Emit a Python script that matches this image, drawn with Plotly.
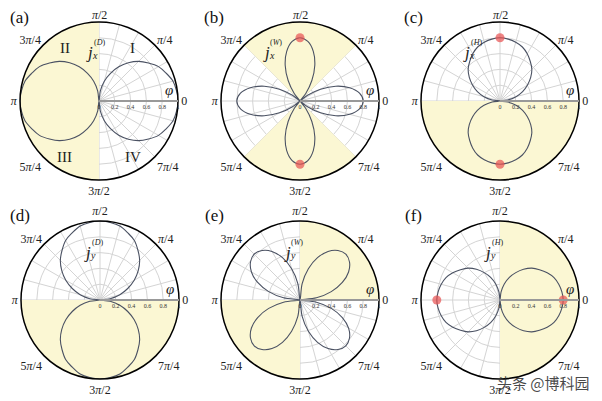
import plotly.graph_objects as go

W, H = 602, 401
OFF = 8  # the page body margin pushes the figure 8px right and down
R = 79  # radius of each polar disc in px

# angle grid in degrees, 0..360 step 7.5
phi = [i * 7.5 for i in range(49)]

# read-off radial values (normalised current density)
r_a = [1.00, 0.99, 0.97, 0.92, 0.87, 0.79, 0.71, 0.61, 0.50, 0.38, 0.26, 0.13, 0.00,
       0.13, 0.26, 0.38, 0.50, 0.61, 0.71, 0.79, 0.87, 0.92, 0.97, 0.99, 1.00,
       0.99, 0.97, 0.92, 0.87, 0.79, 0.71, 0.61, 0.50, 0.38, 0.26, 0.13, 0.00,
       0.13, 0.26, 0.38, 0.50, 0.61, 0.71, 0.79, 0.87, 0.92, 0.97, 0.99, 1.00]
r_b = [0.80, 0.76, 0.65, 0.49, 0.30, 0.12, 0.00, 0.12, 0.30, 0.49, 0.65, 0.76, 0.80,
       0.76, 0.65, 0.49, 0.30, 0.12, 0.00, 0.12, 0.30, 0.49, 0.65, 0.76, 0.80,
       0.76, 0.65, 0.49, 0.30, 0.12, 0.00, 0.12, 0.30, 0.49, 0.65, 0.76, 0.80,
       0.76, 0.65, 0.49, 0.30, 0.12, 0.00, 0.12, 0.30, 0.49, 0.65, 0.76, 0.80]
r_c = [0.00, 0.10, 0.21, 0.31, 0.40, 0.49, 0.57, 0.63, 0.69, 0.74, 0.77, 0.79, 0.80,
       0.79, 0.77, 0.74, 0.69, 0.63, 0.57, 0.49, 0.40, 0.31, 0.21, 0.10, 0.00,
       0.10, 0.21, 0.31, 0.40, 0.49, 0.57, 0.63, 0.69, 0.74, 0.77, 0.79, 0.80,
       0.79, 0.77, 0.74, 0.69, 0.63, 0.57, 0.49, 0.40, 0.31, 0.21, 0.10, 0.00]
r_d = [0.00, 0.13, 0.26, 0.38, 0.50, 0.61, 0.71, 0.79, 0.87, 0.92, 0.97, 0.99, 1.00,
       0.99, 0.97, 0.92, 0.87, 0.79, 0.71, 0.61, 0.50, 0.38, 0.26, 0.13, 0.00,
       0.13, 0.26, 0.38, 0.50, 0.61, 0.71, 0.79, 0.87, 0.92, 0.97, 0.99, 1.00,
       0.99, 0.97, 0.92, 0.87, 0.79, 0.71, 0.61, 0.50, 0.38, 0.26, 0.13, 0.00]
r_e = [0.00, 0.21, 0.41, 0.58, 0.71, 0.79, 0.82, 0.79, 0.71, 0.58, 0.41, 0.21, 0.00,
       0.21, 0.41, 0.58, 0.71, 0.79, 0.82, 0.79, 0.71, 0.58, 0.41, 0.21, 0.00,
       0.21, 0.41, 0.58, 0.71, 0.79, 0.82, 0.79, 0.71, 0.58, 0.41, 0.21, 0.00,
       0.21, 0.41, 0.58, 0.71, 0.79, 0.82, 0.79, 0.71, 0.58, 0.41, 0.21, 0.00]
r_f = [0.80, 0.79, 0.77, 0.74, 0.69, 0.63, 0.57, 0.49, 0.40, 0.31, 0.21, 0.10, 0.00,
       0.10, 0.21, 0.31, 0.40, 0.49, 0.57, 0.63, 0.69, 0.74, 0.77, 0.79, 0.80,
       0.79, 0.77, 0.74, 0.69, 0.63, 0.57, 0.49, 0.40, 0.31, 0.21, 0.10, 0.00,
       0.10, 0.21, 0.31, 0.40, 0.49, 0.57, 0.63, 0.69, 0.74, 0.77, 0.79, 0.80]

# shaded sectors: centre angle and width (deg)
shade_a = ([180], [180])
shade_b = ([90, 270], [90, 90])
shade_c = ([270], [180])
shade_d = ([270], [180])
shade_e = ([45, 225], [90, 90])
shade_f = ([0], [180])

# highlighted maxima
dots_b = ([0.8, 0.8], [90, 270])
dots_c = ([0.8, 0.8], [90, 270])
dots_f = ([0.8, 0.8], [0, 180])

angle_ticks = list(range(0, 360, 15))
angle_labels = {0: "0", 45: "<i>π</i>/4", 90: "<i>π</i>/2", 135: "3<i>π</i>/4",
                180: "<i>π</i>", 225: "5<i>π</i>/4", 270: "3<i>π</i>/2", 315: "7<i>π</i>/4"}
radial_ticks = [0, 0.2, 0.4, 0.6, 0.8, 1]
radial_labels = ["0", "0.2", "0.4", "0.6", "0.8", "1"]

YELLOW = "#fbf7d3"
CURVE = "#4b5263"
GRID = "#d4d4d4"
SERIF = "Liberation Serif"

panels = [
    dict(tag="(a)", r=r_a, shade=shade_a, dots=None, sub="x", sup="D", c=(99, 101), lab=(-10, -49), tx=8),
    dict(tag="(b)", r=r_b, shade=shade_b, dots=dots_b, sub="x", sup="W", c=(300, 101), lab=(-34, -49), tx=202),
    dict(tag="(c)", r=r_c, shade=shade_c, dots=dots_c, sub="x", sup="H", c=(500, 101), lab=(-34, -49), tx=402),
    dict(tag="(d)", r=r_d, shade=shade_d, dots=None, sub="y", sup="D", c=(100, 300), lab=(-13, -48), tx=8),
    dict(tag="(e)", r=r_e, shade=shade_e, dots=None, sub="y", sup="W", c=(300, 300), lab=(-13, -48), tx=203),
    dict(tag="(f)", r=r_f, shade=shade_f, dots=dots_f, sub="y", sup="H", c=(500, 300), lab=(-13, -48), tx=403),
]

FW, FH = W - OFF, H - OFF


def px(x, y):
    # screen pixel -> paper fraction
    return (x - OFF) / FW, 1 - (y - OFF) / FH


fig = go.Figure()
annotations = []
layout = {}

for i, p in enumerate(panels):
    pid = "polar" if i == 0 else f"polar{i + 1}"
    th, wd = p["shade"]
    fig.add_trace(go.Barpolar(r=[1] * len(th), theta=th, width=wd, subplot=pid,
                              marker=dict(color=YELLOW, line=dict(width=0)),
                              hoverinfo="skip"))
    fig.add_trace(go.Scatterpolar(r=p["r"], theta=phi, mode="lines", subplot=pid,
                                  line=dict(color=CURVE, width=1.1, shape="spline")))
    if p["dots"]:
        fig.add_trace(go.Scatterpolar(r=p["dots"][0], theta=p["dots"][1], mode="markers",
                                      subplot=pid,
                                      marker=dict(color="rgba(232,80,80,0.7)", size=9)))

    cx, cy = p["c"]
    top_row = cy < 200
    labels = [angle_labels.get(a, "") for a in angle_ticks]
    if top_row:
        # top label would fall into the page margin; drawn as annotation below
        labels[angle_ticks.index(90)] = ""
        ax, ay = px(cx, 15)
        annotations.append(dict(x=ax, y=ay, text=angle_labels[90],
                                font=dict(size=12, family=SERIF, color="#222")))

    x0, y1 = px(cx - R, cy - R)
    x1, y0 = px(cx + R, cy + R)
    layout[pid] = dict(
        domain=dict(x=[x0, x1], y=[y0, y1]),
        bgcolor="white",
        radialaxis=dict(range=[0, 1], tickvals=radial_ticks, ticktext=radial_labels,
                        tickfont=dict(size=6, color="#333", family=SERIF), angle=0,
                        showline=True, linecolor="#999", linewidth=2,
                        gridcolor=GRID, gridwidth=1, ticks=""),
        angularaxis=dict(tickvals=angle_ticks, ticktext=labels,
                         tickfont=dict(size=12, color="#222", family=SERIF),
                         gridcolor=GRID, gridwidth=1, showline=True,
                         linecolor="black", linewidth=1.5, ticks=""),
    )

    # panel tag
    tx, ty = px(p["tx"], cy - 84)
    annotations.append(dict(x=tx, y=ty, text=p["tag"], xanchor="left",
                            font=dict(size=17, family=SERIF, color="#111")))
    # j label with stacked sub/sup
    lx, ly = p["lab"]
    ax, ay = px(cx + lx, cy + ly)
    annotations.append(dict(x=ax, y=ay, text="<i>j</i>", font=dict(size=17, family=SERIF, color="#222")))
    ax, ay = px(cx + lx + 6, cy + ly + 3)
    annotations.append(dict(x=ax, y=ay, text="<i>%s</i>" % p["sub"], font=dict(size=10, family=SERIF, color="#222")))
    ax, ay = px(cx + lx + 10, cy + ly - 9)
    annotations.append(dict(x=ax, y=ay, text="(<i>%s</i>)" % p["sup"], font=dict(size=8, family=SERIF, color="#222")))
    # phi label
    ax, ay = px(cx + 70, cy - 11)
    annotations.append(dict(x=ax, y=ay, text="<i>φ</i>", font=dict(size=15, family=SERIF, color="#222")))

# quadrant labels in (a)
for txt, (qx, qy) in zip(["I", "II", "III", "IV"], [(132, 48), (65, 48), (65, 157), (133, 157)]):
    ax, ay = px(qx, qy)
    annotations.append(dict(x=ax, y=ay, text=txt, font=dict(size=15, family=SERIF, color="#222")))

# watermark
ax, ay = px(543, 382)
annotations.append(dict(x=ax, y=ay, text="头条 @博科园",
                        font=dict(size=15, family="Noto Sans CJK SC", color="rgba(40,40,40,0.85)")))

for a in annotations:
    a.setdefault("xanchor", "center")
    a.update(xref="paper", yref="paper", showarrow=False, yanchor="middle")

fig.update_layout(
    width=FW, height=FH,
    margin=dict(l=0, r=0, t=0, b=0),
    paper_bgcolor="white",
    showlegend=False,
    annotations=annotations,
    **layout,
)

fig.write_html("out.html")
